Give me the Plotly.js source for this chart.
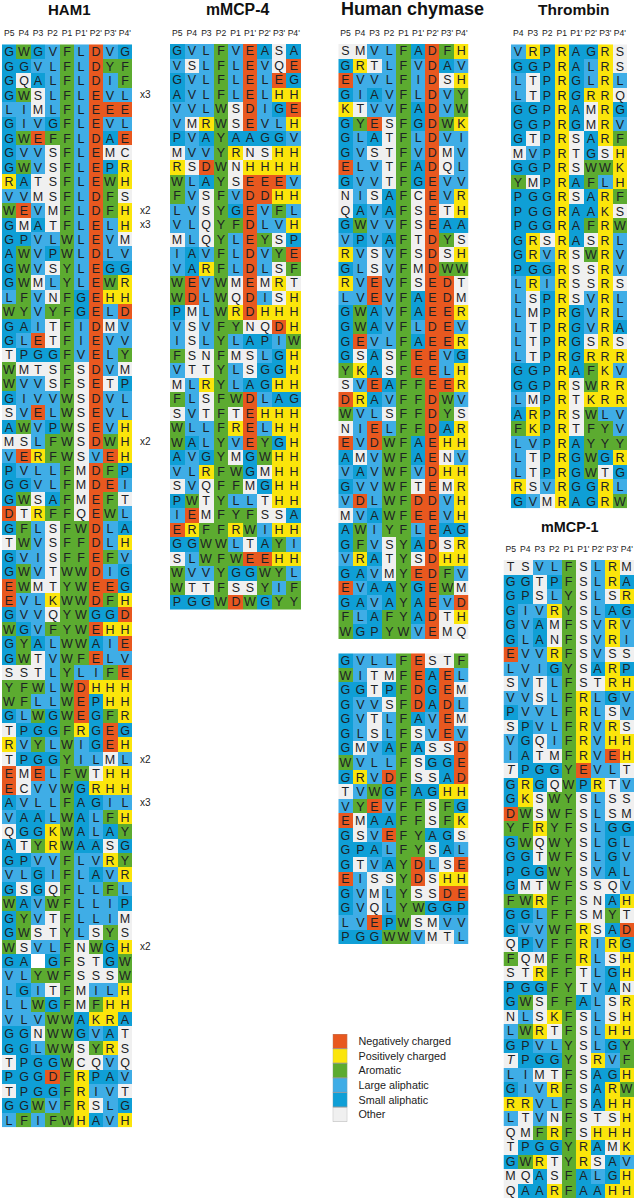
<!DOCTYPE html>
<html>
<head>
<meta charset="utf-8">
<script src="https://cdn.plot.ly/plotly-3.0.1.min.js"></script>
<style>
  html, body { margin: 0; padding: 0; background: #fff; }
</style>
</head>
<body>
<div id="grafico"></div>
<script>
// Residues per row, lowercase = letter printed in italics, space = empty cell
const ham1Rows = ['GWGVFLDVG','GGVLFLDYF','GQALFLDIF','GWSLFLEVL','LIMLFLEEE','GIVGFLEVL','GWEFFLDAE','GVVSFLEMC','GWVSFLEPR','RATSFLEWH',
  'VVMSFLDFS','WEVMFLDFH','GMATFLELH','GPVLWLEVM','AWVPWLDLV','GWVSYLEGG','GWMLYLEWR','LFVNFGEHH','WYVYFGELD','GAITFIDMV',
  'GLETFIEVV','TPGGFVELY','WMTSFSDVM','WVVSFSETP','GIVVWSDVL','SVELWSEVL','AWVPWSEVH','MSLFWSDWH','VERFWSVEH','PVLLFMDFP',
  'GGVLFMDEI','GWSAFMEFT','DTRFFQEWL','GFLSFWDLA','TWVSFFDLH','GVISFFEFV','GWVTWWDIG','EWMTYWEEG','EVLKWWDFH','GVVQYWGGD',
  'WGVFYWEHH','GYALWWAIE','GWTVWFELV','SSTLYLIFE','YFWLWDHHH','WFLLWEPHH','GLWGWEGFR','TPGGFRGEG','RVYLWIGEH','TPGGYILML',
  'EMELFWTHH','ECVVWGRHH','AVLLFAGIL','VAALWALFH','QGGKWALAY','ATYRWAASG','GPVVFLVRY','VLGIFLAVR','GSGQFLLFL','WAVWFLLIP',
  'GYVTFLLIM','GWSTYLSYS','WSVLFNWGH','GA GFSTGW','VLYWFSSSW','LGITFMILH','LLWGFMFHH','VLVWWAKRA','GGNWWGVAT','GGLWWSYRS',
  'TPGGWCQVQ','PGGDFRPAV','TPGGFRIVT','GGWVFRSLG','LFIFWHAVH'];
const mmcp4Rows = ['GVLFVEASA','VSLFLEVQE','GVLFLELEG','AVLFLELHH','VVLWSDIGE','VMRWSEVLH','PVAYAAGGV','MVVYRNSHH','RSDWNHHHH','WLAYSEEEV',
  'FVSFVDDHH','LVSYGEVFL','VLQYFDLVH','MLQYLEYSP','IAVFLDVYE','VARFLDLSF','WEVWMEMRT','WDLWQDISH','PMLWRDHHH','VSVFYNQDH',
  'ISLYLAPIW','FSNFMSLGH','VTTYLSGGH','MLRYLAGHH','FLSFWDLAG','SVTFTEHHH','WLLFRELHH','WALYVEYGH','AVGYMGWHH','VLRFWGMHH',
  'SVQFFMGHH','PWTYLLTHH','IEMFYFSSA','ERFFRWIHH','GGWWLTAYI','SLWFWEEHH','WVVYGGWYL','WTTFSSYIF','PGGWDWGYY'];
const chymaseRows = ['SMVLFADFH','GRTLFVDAV','EVVLFIDSH','GIAVFLDVY','KTVVFADVW','GYESFGDWK','GLATFLDVI','GVSTFVDMV','ELVTFADQL','GVVTFGEVV',
  'NISAFCEVR','QAVAFSETH','GWVVFSEAA','VPVAFTDYS','RVSVFSDSH','GLSVFMDWW','RVEVFSEDT','LVEVFAEDM','GWAVFAEER','GWAVFLDEV',
  'GEVLFAEER','GSASFEEVG','YKASFEELH','SVEAFFEER','DRAVFFDWV','WVLSFFDYS','NIELFFDAR','EVDWFAEHH','AMVWFAENV','VAVWFVDHH',
  'GVVWFTEMR','VDLWFDDVH','MVAWFEEVH','AWIYFLEAG','GFVSYADSR','VRATYSDHH','GAVMYEDFV','EVAAYGEWM','GAVAYAEVD','FLAFYADTH','WGPYWVEMQ'];
const chymaseRows2 = ['GVLLFESTF','WITMFEAEL','GGTPFDGEM','GVVSFDADL','GVTLFAVEM','GLSLFSVEV','GMVAFASSD','WVLLFSGGE','gRVDFSSAD','TVWGFAGHH',
  'VYEVFFSFG','EMAAFFSFK','GSVEFYAGS','GPALFYSAL','GTVAYDLSE','EISSYDSHH','GVMLYSSDE','GVQLYWGGP','LVEPWSMVV','PGGWWVMTL'];
const thrombinRows = ['VRPRAGRS','GGPRALRS','LTPRGLRL','LTPRgRRQ','GGPRAMRG','GGPRGMRV','GTPRSARF','MVPRTGSH','GGPRSWWK','YMPRAFLH',
  'PGGRSARF','PGGRAAKS','PGGRAFRW','GRSRASRL','GRVRSWRV','PGGRSSRV','LRIRSSRS','LSPRSVRL','LMPRGVRL','LTPRgVRA',
  'LTPRGSRS','LTPRgRRR','GGPRAFKV','GGPRSWRR','LMPRTKRR','ARPRSWLV','FKPRTFYV','LVPRAYYY','LTPRGWGR','LTPRGWTG','RSVRGGRL','GVMRAGRW'];
const mmcp1Rows = ['TSVLFSLRM','GGTPFSLRA','GPSLYSLSR','GIVRYSLAG','GVAMFSVRV','GLANFSVRI','EVVRFSVSS','LVIGYSARP','SVTLFSTRH','VVSLFRLGV',
  'PVVLFRLSV','SPVLFRVRS','VGQIFRVHH','IATMFRVEH','tPGGYEVLT','GRGQWPRTV','GKSWYSLSS','DWSWFSLSM','YFRYFSLGG','GWQWYSLGL',
  'GGTWFSLGV','PGGWYSVAL','GMTWFSSQV','FWRFFSNAH','GGLFFSMYT','GVVWFRSAD','QPVFFRIRG','FQMFFRLSH','STRFFTLGH','PGGFYTVAN',
  'GWSFFALSR','NLSKFSLSH','LWRTFSLHH','GPVLYSLGY','tPGGYSRVF','LIMTFSAGH','GIVRFSARW','RRVLFSAHH','LTVNFSTSH','QMFRFSHHH',
  'TPGGYRAMK','GWRTYRSAV','MQASFALGH','QAARFAAHH'];

const headers9 = ['P5','P4','P3','P2','P1',"P1'","P2'","P3'","P4'"];
const headers8 = ['P4','P3','P2','P1',"P1'","P2'","P3'","P4'"];

// Repeat marks next to the HAM1 rows
const ham1MarkRows = [3, 11, 12, 27, 49, 52, 62];
const ham1MarkText = ['x3', 'x2', 'x3', 'x2', 'x2', 'x3', 'x2'];

const legendLabels = ['Negatively charged','Positively charged','Aromatic','Large aliphatic','Small aliphatic','Other'];
const classColors = ['#E8581F','#FBE50B','#5CAB30','#3FADE6','#0F9FD6','#F0F0F0'];
const classResidues = ['DE','RKH','FWY','LVI','GAP','STNQCM'];

const W = 636, H = 1200;
const font = 'Liberation Sans, Arial, sans-serif';

// Classe do resíduo (null = célula vazia)
function classOf(ch) {
    const up = ch.toUpperCase();
    const i = classResidues.findIndex(s => s.includes(up));
    return i < 0 ? null : i;
}

function label(ch) {
    if (ch === ' ') return '';
    return ch === ch.toLowerCase() ? '<i>' + ch.toUpperCase() + '</i>' : ch;
}

// Escala discreta: uma faixa de cor por classe
const n = classColors.length;
const colorscale = [];
classColors.forEach((c, i) => {
    colorscale.push([i / n, c]);
    colorscale.push([(i + 1) / n, c]);
});

const panels = [
    { rows: ham1Rows,     headers: headers9, left: 2,     right: 132,   top: 44.3,  bottom: 1127.3 },
    { rows: mmcp4Rows,    headers: headers9, left: 170,   right: 301,   top: 44,    bottom: 609.5 },
    { rows: chymaseRows,  headers: headers9, left: 338.3, right: 468.7, top: 44,    bottom: 639 },
    { rows: chymaseRows2, headers: null,     left: 338.3, right: 468.7, top: 653.3, bottom: 944 },
    { rows: thrombinRows, headers: headers8, left: 511,   right: 627,   top: 44.3,  bottom: 508.3 },
    { rows: mmcp1Rows,    headers: headers9, left: 503.5, right: 634,   top: 560,   bottom: 1198 }
];

const data = [];
const layout = {
    width: W, height: H,
    margin: { l: 0, r: 0, t: 0, b: 0 },
    paper_bgcolor: '#fff',
    plot_bgcolor: '#fff',
    showlegend: false,
    font: { family: font, color: '#222' },
    annotations: [],
    shapes: []
};

panels.forEach((p, k) => {
    const id = k === 0 ? '' : String(k + 1);
    const cols = p.rows[0].length;
    data.push({
        type: 'heatmap',
        xaxis: 'x' + id,
        yaxis: 'y' + id,
        z: p.rows.map(r => r.split('').map(classOf)),
        text: p.rows.map(r => r.split('').map(label)),
        texttemplate: '%{text}',
        textfont: { family: font, size: 12.5, color: '#1c2226' },
        zmin: 0, zmax: n,
        colorscale: colorscale,
        showscale: false,
        hoverinfo: 'skip'
    });
    layout['xaxis' + id] = {
        domain: [p.left / W, p.right / W],
        anchor: 'y' + id,
        side: 'top',
        range: [-0.5, cols - 0.5],
        tickmode: 'array',
        tickvals: p.headers ? p.headers.map((h, i) => i) : [],
        ticktext: p.headers || [],
        tickangle: 0,
        tickfont: { family: font, size: 8.6, color: '#222' },
        ticklen: 4, tickcolor: 'rgba(0,0,0,0)', ticks: 'outside',
        showgrid: false, zeroline: false, showline: false, fixedrange: true
    };
    layout['yaxis' + id] = {
        domain: [1 - p.bottom / H, 1 - p.top / H],
        anchor: 'x' + id,
        range: [p.rows.length - 0.5, -0.5],
        showticklabels: false, ticks: '',
        showgrid: false, zeroline: false, showline: false, fixedrange: true
    };
});

// Legenda como um heatmap de uma coluna, rótulos nos ticks do eixo y
data.push({
    type: 'heatmap',
    xaxis: 'x7',
    yaxis: 'y7',
    z: legendLabels.map((l, i) => [i]),
    zmin: 0, zmax: n,
    colorscale: colorscale,
    showscale: false,
    hoverinfo: 'skip'
});
layout.xaxis7 = {
    domain: [332.7 / W, 347.3 / W], anchor: 'y7', range: [-0.5, 0.5],
    showticklabels: false, ticks: '', showgrid: false, zeroline: false, fixedrange: true
};
layout.yaxis7 = {
    domain: [1 - 1121.7 / H, 1 - 1034 / H], anchor: 'x7', side: 'right',
    range: [5.5, -0.5],
    tickvals: legendLabels.map((l, i) => i),
    ticktext: legendLabels,
    tickangle: 0,
    tickfont: { family: font, size: 10.8, color: '#222' },
    ticks: 'outside', ticklen: 8, tickcolor: 'rgba(0,0,0,0)',
    showgrid: false, zeroline: false, showline: false, fixedrange: true
};
legendLabels.forEach((l, i) => {
    layout.shapes.push({
        type: 'rect', xref: 'x7', yref: 'y7',
        x0: -0.5, x1: 0.5, y0: i - 0.5, y1: i + 0.5,
        line: { color: '#9a9a9a', width: 0.6 }
    });
});

function title(text, x, y, size) {
    layout.annotations.push({
        text: '<b>' + text + '</b>', xref: 'paper', yref: 'paper',
        x: x / W, y: 1 - y / H, xanchor: 'center', yanchor: 'middle',
        showarrow: false, font: { family: font, size: size, color: '#111' }
    });
}
title('HAM1', 69, 10, 15);
title('mMCP-4', 238, 10, 15.8);
title('Human chymase', 412, 9, 18);
title('Thrombin', 573, 10, 15.5);
title('mMCP-1', 570, 527, 14.4);

// Marcas fora do eixo: x em papel, y no eixo do HAM1
ham1MarkRows.forEach((r, i) => {
    layout.annotations.push({
        text: ham1MarkText[i], xref: 'paper', yref: 'y', x: 145 / W, y: r,
        xanchor: 'center', yanchor: 'middle', showarrow: false,
        font: { family: font, size: 10, color: '#222' }
    });
});

Plotly.newPlot('grafico', data, layout, { displayModeBar: false, staticPlot: true });
</script>
</body>
</html>
